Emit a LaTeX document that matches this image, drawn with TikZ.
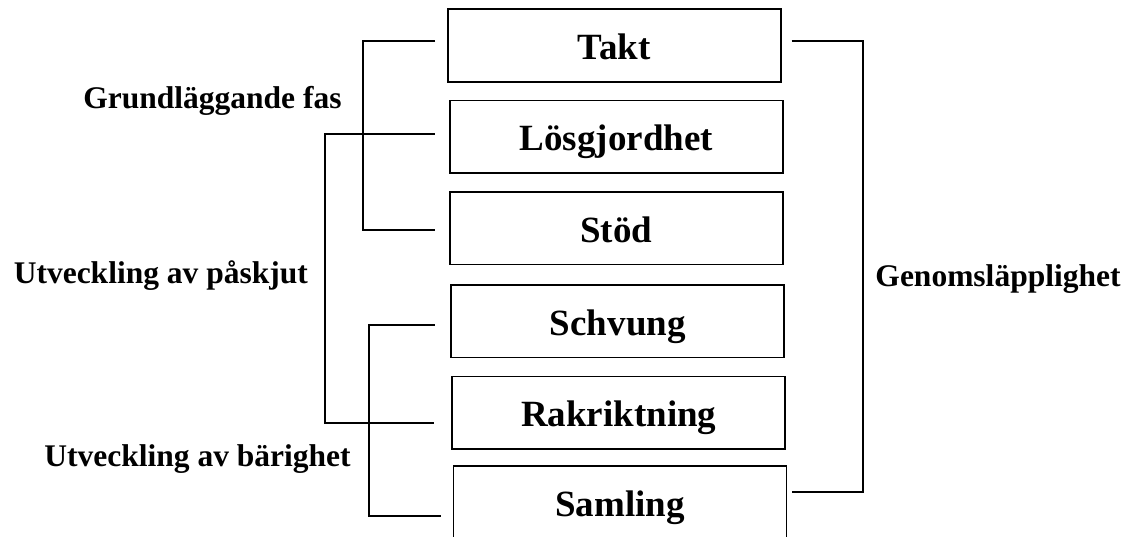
\documentclass[tikz,border=0pt]{standalone}
\usepackage{fontspec}
\setmainfont{Liberation Serif}
\tikzset{
  box/.style={draw, line width=1.8pt, minimum width=333pt, minimum height=72.5pt,
    inner sep=0pt, font=\fontsize{37}{40}\selectfont\bfseries, text height=30pt, text depth=2pt},
  lbl/.style={font=\fontsize{31.5}{36}\selectfont\bfseries, inner sep=0pt, anchor=base},
  link/.style={line width=1.8pt}
}
\begin{document}
\begin{tikzpicture}[x=1pt,y=-1pt]
\clip (0,0) rectangle (1129,537);
\fill[white] (0,0) rectangle (1129,537);
% boxes
\node[box] (takt) at (614.2,45.5) {Takt};
\node[box] (losg) at (616.3,136.8) {Lösgjordhet};
\node[box] (stod) at (616.3,228.3) {Stöd};
\node[box] (schv) at (617.8,321.3) {Schvung};
\node[box] (rakr) at (618.8,412.7) {Rakriktning};
\node[box] (saml) at (620.0,502.5) {Samling};
% labels
\node[lbl] (gf) at (212.5,108.3) {Grundläggande fas};
\node[lbl] (up) at (160.8,283.3) {Utveckling av påskjut};
\node[lbl] (ub) at (197.5,466.7) {Utveckling av bärighet};
\node[lbl] (gs) at (998,287) {Genomsläpplighet};
% bracket: Takt - Stöd
\coordinate (gx) at (363.3,0);
\coordinate (g1) at ([shift={(-11.7,-4.5)}]takt.west);
\coordinate (g2) at ([shift={(-14.3,1.7)}]stod.west);
\draw[link] (g1) -- (g1 -| gx) -- (g2 -| gx) -- (g2);
% bracket: Lösgjordhet - Rakriktning
\coordinate (lx) at (325,0);
\coordinate (l1) at ([shift={(-14.3,-2.5)}]losg.west);
\coordinate (l2) at ([shift={(-17,10)}]rakr.west);
\draw[link] (l1) -- (l1 -| lx) -- (l2 -| lx) -- (l2);
% bracket: Schvung - Samling
\coordinate (sx) at (369.3,0);
\coordinate (s1) at ([shift={(-15.7,3.7)}]schv.west);
\coordinate (s2) at ([shift={(-11.6,13.5)}]saml.west);
\draw[link] (s1) -- (s1 -| sx) -- (s2 -| sx) -- (s2);
% right bracket: Takt - Samling
\coordinate (rx) at (863.3,0);
\coordinate (r1) at ([shift={(10,-4.5)}]takt.east);
\coordinate (r2) at ([shift={(5,-10.8)}]saml.east);
\draw[link] (r1) -- (r1 -| rx) -- (r2 -| rx) -- (r2);
\end{tikzpicture}
\end{document}
